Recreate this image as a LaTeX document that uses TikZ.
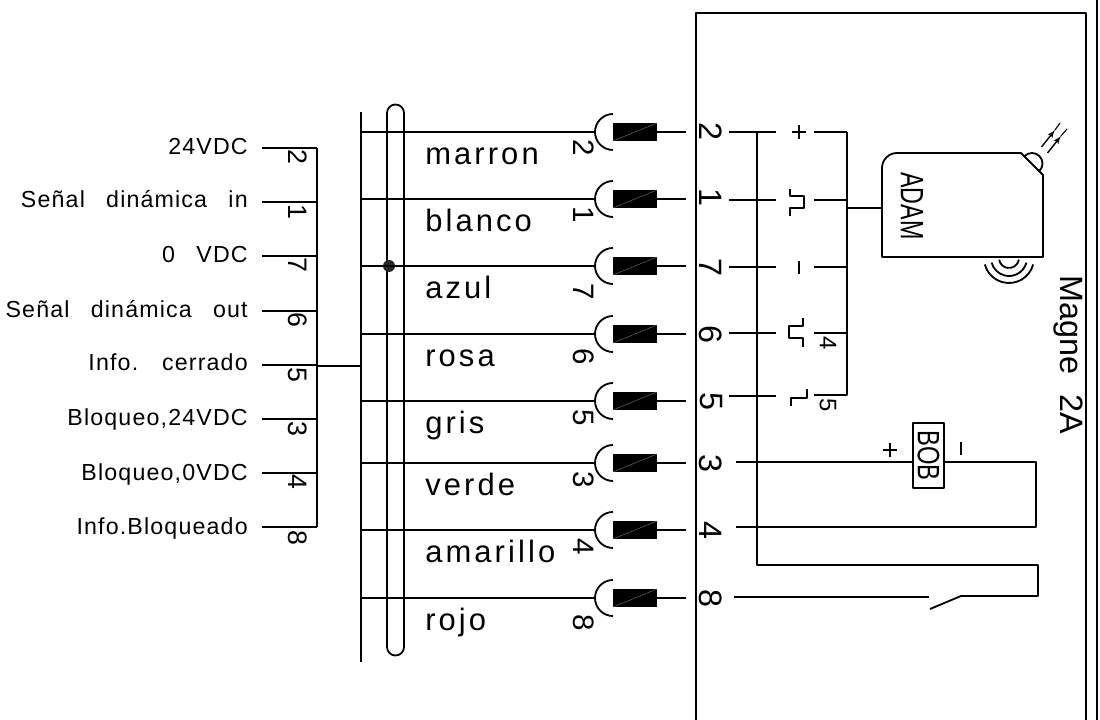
\documentclass[tikz,border=0pt]{standalone}
\usepackage{fontspec}
\setmainfont{Liberation Sans}
\newfontfamily\sidefont[LetterSpace=5,WordSpace=2.8]{Liberation Sans}
\newfontfamily\colourfont[LetterSpace=10]{Liberation Sans}
\usetikzlibrary{arrows}
\usetikzlibrary{positioning}
\tikzset{wire/.style = {line width=1.3pt},
         txt/.style = {inner sep=0pt},
         side/.style = {txt, anchor=base east, font=\sidefont\fontsize{16.5}{17}\selectfont},
         colour/.style = {txt, anchor=base west, font=\colourfont\fontsize{22}{22}\selectfont},
         pin/.style = {txt, rotate=-90, font=\fontsize{19}{19}\selectfont},
         cpinstyle/.style = {pin, font=\fontsize{21}{21}\selectfont},
         tpinstyle/.style = {pin, font=\fontsize{23}{23}\selectfont},
         sensorpin/.style = {pin, font=\fontsize{17}{17}\selectfont}}

\begin{document}
\begin{tikzpicture}[x=0.025cm, y=-0.025cm, every path/.style={line join=round}]
    \useasboundingbox (0, 0) rectangle (1100, 720);

    % cabinet
    \draw [wire] (696, 720) -- (696, 13) -- (1086, 13) -- (1086, 720);
    \draw [wire] (1097, 0) -- (1097, 720);
    \node [txt, rotate=-90, font=\fontsize{23}{23}\selectfont] (magne) at (1068, 355) {Magne\hspace{14pt}2A};

    % left side signals
    \coordinate (lefttop) at (317, 148);
    \coordinate (leftbot) at (317, 527);
    \draw [wire] (lefttop) -- (leftbot);
    \foreach \y/\t/\n/\p/\b in {148/24VDC/2/157/155, 202/Señal dinámica in/1/212/208, 256/0 VDC/7/265/263,
                                311/Señal dinámica out/6/320/318, 365/Info. cerrado/5/375/371,
                                419/Bloqueo{,}24VDC/3/429/426, 473/Bloqueo{,}0VDC/4/482/481, 527/Info.Bloqueado/8/538/535}{
      \coordinate (sig\n) at (262, \y);
      \draw [wire] (sig\n) -- (317, \y);
      \node [side] (name\n) at (248, \b) {\t};
      \node [pin] (lpin\n) at (298, \p) {\n};
    }

    % trunk
    \coordinate (trunktop) at (361, 112);
    \coordinate (trunkbot) at (361, 662);
    \draw [wire] (trunktop) -- (trunkbot);
    \draw [wire] (317, 366) -- (361, 366);
    \draw [wire] (387, 113) arc (180:360:8.5) -- (404, 647) arc (0:180:8.5) -- cycle;
    \fill [black!85] (389, 266) circle (6);

    % connectors
    \foreach \y/\n/\c/\p/\tp in {132/2/marron/148/132, 199/1/blanco/215/197, 266/7/azul/292/267,
                                 334/6/rosa/357/334, 401/5/gris/418/401,
                                 463/3/verde/480/463, 530/4/amarillo/547/530, 598/8/rojo/623/598}{
      \coordinate (w\n) at (361, \y);
      \draw [wire] (w\n) -- (595, \y);
      \draw [wire] (613, \y - 18) arc (-90:-270:18 and 18);
      \fill (613, \y - 9) rectangle (657, \y + 9);
      \draw [black!55, line width=0.3pt] (613, \y + 9) -- (657, \y - 9);
      \draw [wire] (657, \y) -- (686, \y);
      \node [colour] (col\n) at (425, \y + 33) {\c};
      \node [cpinstyle] (cpin\n) at (584, \p) {\n};
      \node [tpinstyle] (tpin\n) at (711, \tp) {\n};
    }

    % terminals
    \foreach \y in {132, 200, 267, 333}{
      \draw [wire] (729, \y) -- (776, \y);
      \draw [wire] (814, \y) -- (847, \y);
    }
    \draw [wire] (729, 396) -- (776, 396);
    \draw [wire] (814, 395) -- (847, 395) -- (847, 132);
    \draw [wire] (757, 132) -- (757, 565) -- (1038, 565) -- (1038, 596) -- (961, 596) -- (930, 609);
    \draw [wire] (734, 597) -- (929, 597);
    \node [sensorpin] (four) at (828, 343) {4};
    \node [sensorpin] (five) at (828, 405) {5};

    % + - and pulse marks
    \draw [wire] (792, 132) -- (806, 132) (799, 125) -- (799, 139);
    \draw [wire] (799, 261) -- (799, 274);
    \draw [wire] (790, 189) -- (790, 196) -- (804, 196) -- (804, 208) -- (790, 208) -- (790, 216);
    \draw [wire] (803, 318) -- (803, 326) -- (789, 326) -- (789, 338) -- (803, 338) -- (803, 347);
    \draw [wire] (807, 389) -- (807, 398) -- (791, 398) -- (791, 406);

    % sensor
    \draw [wire] (847, 208) -- (882, 208);
    \draw [wire] (897, 153) -- (1021, 153) -- (1043, 175) -- (1043, 257) -- (882, 257) -- (882, 168) arc (180:270:15);
    \draw [wire] (1032, 163.5) ++(-135:10.5) arc (-135:45:10.5);
    \node [txt, rotate=-90, font=\fontsize{23}{23}\selectfont] (adam) at (912, 206) {\scalebox{.72}[1]{ADAM}};
    \draw [line width=1pt, -latex'] (1041.5, 147) -- (1055, 130);
    \draw [line width=0.8pt] (1055, 130) -- (1060, 123);
    \draw [line width=1pt, -latex'] (1047.5, 153) -- (1061, 136);
    \draw [line width=0.8pt] (1061, 136) -- (1067, 129);
    \foreach \r/\a in {10/10, 18/15, 25/15}{
      \draw [wire] (1009, 258) ++(\a:\r) arc (\a:180-\a:\r);
    }

    % coil and the rest
    \node [draw, line width=1.3pt, minimum width=31*0.025cm, minimum height=65*0.025cm, inner sep=0pt] (bob) at (928.5, 455.5) {};
    \node [txt, rotate=-90, font=\fontsize{22}{22}\selectfont] (bobtxt) at (bob.center) {\scalebox{.77}[1]{BOB}};
    \coordinate (cola) at (736, 462);
    \coordinate (colb) at (736, 527);
    \draw [wire] (cola) -- (913, 462);
    \draw [wire] (944, 462) -- (1036, 462) -- (1036, 527) -- (colb);
    \draw [wire] (883, 450) -- (897, 450) (890, 443) -- (890, 457);
    \draw [wire] (961, 442) -- (961, 455);
\end{tikzpicture}
\end{document}
